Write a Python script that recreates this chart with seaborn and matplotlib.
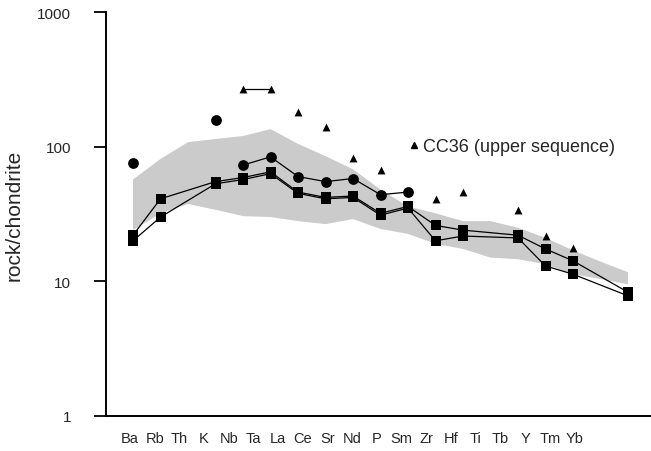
import numpy as np
import pandas as pd
import matplotlib
matplotlib.use("Agg")
import matplotlib.pyplot as plt
from matplotlib.lines import Line2D
import seaborn as sns

nan = np.nan
elements = ["Ba", "Rb", "Th", "K", "Nb", "Ta", "La", "Ce", "Sr", "Nd",
            "P", "Sm", "Zr", "Hf", "Ti", "Tb", "Y", "Tm", "Yb"]

# shaded envelope (other samples)
env_upper = [57, 81, 108, 114, 120, 135, 105, 85, 68, 48, 36, 32, 28, 28, 25, 21, 17, 14, 11.7]
env_lower = [24, 32, 37.5, 34, 30.5, 30, 28, 26.6, 29, 24.5, 22.5, 19, 17.4, 15, 14.6, 13.4, 11.3, 10.4, 9.5]

# samples
circles = [75, nan, nan, 157, 73, 84, 60, 55, 58, 44, 46, nan, nan, nan, nan, nan, nan, nan, nan]
squares_a = [22, 41, nan, 55, 59, 65, 46, 42, 43, 32, 36, 26, 24, nan, 22, 17.4, 14.2, nan, 8.3]
squares_b = [20, 30, nan, 53, 57, 63, 45, 41, 42, 31, 35, 20, 21.7, nan, 21, 13, 11.3, nan, 7.8]
cc36 = [nan, nan, nan, nan, 268, 268, 181, 140, 82, 67, nan, 41, 46, nan, 34, 21.7, 17.7, nan, nan]

legend_label = "CC36 (upper sequence)"

sns.set_theme(style="ticks")
plt.rcParams["font.family"] = ["Liberation Sans", "DejaVu Sans"]

fig = plt.figure(figsize=(6.51, 4.52), dpi=100)
ax = fig.add_axes([106 / 651, 35 / 452, 1 - 106 / 651, (417 - 13) / 452])

idx = np.arange(len(elements))
df = pd.DataFrame({"pos": idx, "el": elements, "upper": env_upper, "lower": env_lower,
                   "circ": circles, "sqa": squares_a, "sqb": squares_b, "cc36": cc36})

ax.fill_between(df["pos"], df["lower"], df["upper"], facecolor="#cbcbcb",
                edgecolor="none", zorder=1)

for col in ["sqa", "sqb"]:
    d = df.dropna(subset=[col])
    sns.lineplot(data=d, x="pos", y=col, ax=ax, color="black", lw=0.9,
                 marker="s", markersize=7.5, markeredgewidth=0,
                 sort=False, zorder=3, legend=False)

# circles: connected Nb..P, isolated Ba and K
dc = df.dropna(subset=["circ"])
sns.scatterplot(data=dc, x="pos", y="circ", ax=ax, color="black", s=60,
                marker="o", linewidth=0, zorder=4, legend=False)
dcl = dc[dc["pos"] >= 4]
sns.lineplot(data=dcl, x="pos", y="circ", ax=ax, color="black", lw=0.9,
             sort=False, zorder=3, legend=False)

# CC36 triangles
dt = df.dropna(subset=["cc36"])
sns.scatterplot(data=dt, x="pos", y="cc36", ax=ax, color="black", s=32,
                marker="^", linewidth=0, zorder=4, legend=False)
dtl = dt[dt["el"].isin(["Nb", "Ta"])]
sns.lineplot(data=dtl, x="pos", y="cc36", ax=ax, color="black", lw=0.9,
             sort=False, zorder=3, legend=False)

ax.set_yscale("log")
ax.set_ylim(1, 1000)
ax.set_xlim((106 - 133) / 27.5, (651 - 133) / 27.5)
ax.set_yticks([1, 10, 100, 1000])
ax.set_yticklabels(["1", "10", "100", "1000"])
ax.yaxis.set_minor_locator(matplotlib.ticker.NullLocator())
ax.tick_params(axis="y", length=9, width=1.3, labelsize=11, pad=16, color="black")

# tick labels in the original are set slightly tighter than the data columns
label_pos = (130 - 133) / 27.5 + idx * (24.7 / 27.5)
ax.set_xticks(label_pos)
ax.set_xticklabels(elements)
ax.tick_params(axis="x", length=0, labelsize=10.5, pad=11)

ax.set_xlabel("")
ax.set_ylabel("rock/chondrite", fontsize=15)
ax.yaxis.set_label_coords((24 - 106) / 545, 0.5)
sns.despine(ax=ax)
for s in ["left", "bottom"]:
    ax.spines[s].set_linewidth(1.4)
    ax.spines[s].set_color("black")

handle = Line2D([], [], color="black", marker="^", linestyle="none", markersize=5)
fig.legend([handle], [legend_label], loc="center left",
           bbox_to_anchor=(400 / 651, 1 - 148 / 452), frameon=False,
           handlelength=0.5, handletextpad=0.3, borderpad=0, fontsize=13)

fig.savefig("out.png", dpi=100)
